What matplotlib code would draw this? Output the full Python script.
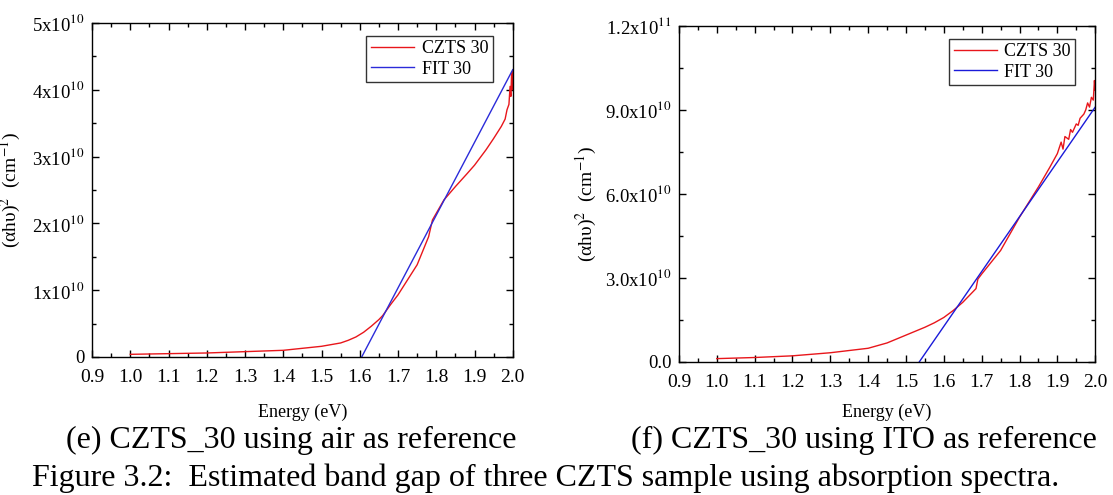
import numpy as np
import matplotlib.pyplot as plt
from matplotlib.ticker import MultipleLocator, FixedLocator

plt.rcParams['font.family'] = ['Liberation Serif', 'DejaVu Serif']
plt.rcParams['mathtext.fontset'] = 'stix'

# ---- data (values in units of 1e10) ----
# (e) air as reference
air_energy = [1.00, 1.10, 1.20, 1.30, 1.40, 1.45, 1.50, 1.53, 1.55, 1.57, 1.59, 1.61,
              1.63, 1.65, 1.66, 1.68, 1.70, 1.73, 1.75, 1.78, 1.79, 1.80, 1.82, 1.85,
              1.88, 1.90, 1.93, 1.95, 1.97, 1.98, 1.985, 1.99, 1.993, 1.995, 1.997,
              1.999, 2.00]
air_czts = [0.04, 0.05, 0.06, 0.08, 0.10, 0.13, 0.16, 0.19, 0.21, 0.25, 0.30, 0.37,
            0.46, 0.56, 0.62, 0.78, 0.93, 1.20, 1.38, 1.80, 2.05, 2.15, 2.35, 2.55,
            2.74, 2.87, 3.10, 3.27, 3.45, 3.56, 3.70, 3.78, 4.05, 3.90, 4.25, 4.00,
            4.28]
air_fit_energy = [1.605, 2.00]
air_fit = [0.0, 4.30]

# (f) ITO as reference
ito_energy = [1.00, 1.10, 1.20, 1.30, 1.40, 1.45, 1.475, 1.50, 1.525, 1.55, 1.575,
              1.60, 1.625, 1.65, 1.68, 1.685, 1.69, 1.70, 1.75, 1.80, 1.85, 1.88,
              1.90, 1.91, 1.915, 1.92, 1.93, 1.935, 1.94, 1.95, 1.955, 1.96, 1.97,
              1.975, 1.98, 1.985, 1.99, 1.995, 1.998, 2.00]
ito_czts = [0.12, 0.16, 0.22, 0.33, 0.49, 0.68, 0.82, 0.96, 1.10, 1.24, 1.40,
            1.59, 1.84, 2.13, 2.55, 2.62, 2.96, 3.14, 3.98, 5.17, 6.25, 6.95,
            7.44, 7.85, 7.60, 8.05, 7.95, 8.30, 8.20, 8.50, 8.45, 8.70, 8.85,
            9.00, 9.25, 9.10, 9.45, 9.35, 10.05, 9.70]
ito_fit_energy = [1.535, 2.00]
ito_fit = [0.0, 9.10]

fig = plt.figure(figsize=(11.13, 4.95), dpi=100)
ax1 = fig.add_axes([0.0827, 0.2788, 0.378, 0.675])
ax2 = fig.add_axes([0.610, 0.2687, 0.374, 0.679])

ylabel = '(αhυ)$^2$  (cm$^{-1}$)'
xticks = np.round(np.arange(0.9, 2.01, 0.1), 1)


def style_axis(ax):
    ax.set_xlim(0.9, 2.0)
    ax.set_xticks(xticks)
    ax.set_xticklabels([f'{v:.1f}' for v in xticks])
    ax.xaxis.set_minor_locator(MultipleLocator(0.05))
    ax.tick_params(which='both', direction='in', top=True, right=True, width=1)
    ax.tick_params(which='major', length=5)
    ax.tick_params(which='minor', length=3)
    ax.tick_params(axis='x', which='major', pad=9, labelsize=14)
    ax.tick_params(axis='y', which='major', pad=5, labelsize=13.5)
    for s in ax.spines.values():
        s.set_linewidth(1)
    ax.set_xlabel('Energy (eV)', fontsize=13)
    ax.set_ylabel(ylabel, fontsize=14)


# left panel
ax1.plot(air_energy, air_czts, color='#e8161b', lw=1, label='CZTS 30')
ax1.plot(air_fit_energy, air_fit, color='#2b2bd9', lw=1, label='FIT 30')
style_axis(ax1)
ax1.set_ylim(0, 5)
ax1.yaxis.set_major_locator(FixedLocator([0, 1, 2, 3, 4, 5]))
ax1.yaxis.set_minor_locator(MultipleLocator(0.5))
ax1.set_yticklabels(['0'] + [f'{i}x10$^{{10}}$' for i in range(1, 6)])
ax1.xaxis.set_label_coords(0.5, -0.14)
ax1.yaxis.set_label_coords(-0.164, 0.5)

# right panel
ax2.plot(ito_energy, ito_czts, color='#e8161b', lw=1, label='CZTS 30')
ax2.plot(ito_fit_energy, ito_fit, color='#1a1ad9', lw=1, label='FIT 30')
style_axis(ax2)
ax2.set_ylim(0, 12)
ax2.yaxis.set_major_locator(FixedLocator([0, 3, 6, 9, 12]))
ax2.yaxis.set_minor_locator(MultipleLocator(1.5))
ax2.set_yticklabels(['0.0', '3.0x10$^{10}$', '6.0x10$^{10}$',
                     '9.0x10$^{10}$', '1.2x10$^{11}$'])
ax2.xaxis.set_label_coords(0.5, -0.125)
ax2.yaxis.set_label_coords(-0.192, 0.47)

for ax in (ax1, ax2):
    leg = ax.legend(loc='upper right', bbox_to_anchor=(0.952, 0.962),
                    fontsize=13, frameon=True, fancybox=False,
                    handlelength=2.4, handletextpad=0.4, borderpad=0.25,
                    labelspacing=0.2, borderaxespad=0)
    leg.get_frame().set_edgecolor('black')
    leg.get_frame().set_linewidth(1)

fig.text(0.262, 0.111, '(e) CZTS_30 using air as reference', fontsize=23,
         ha='center', va='center')
fig.text(0.776, 0.111, '(f) CZTS_30 using ITO as reference', fontsize=23,
         ha='center', va='center')
fig.text(0.490, 0.034, 'Figure 3.2:  Estimated band gap of three CZTS sample using absorption spectra.',
         fontsize=23, ha='center', va='center')

fig.savefig('out.png', dpi=100)
